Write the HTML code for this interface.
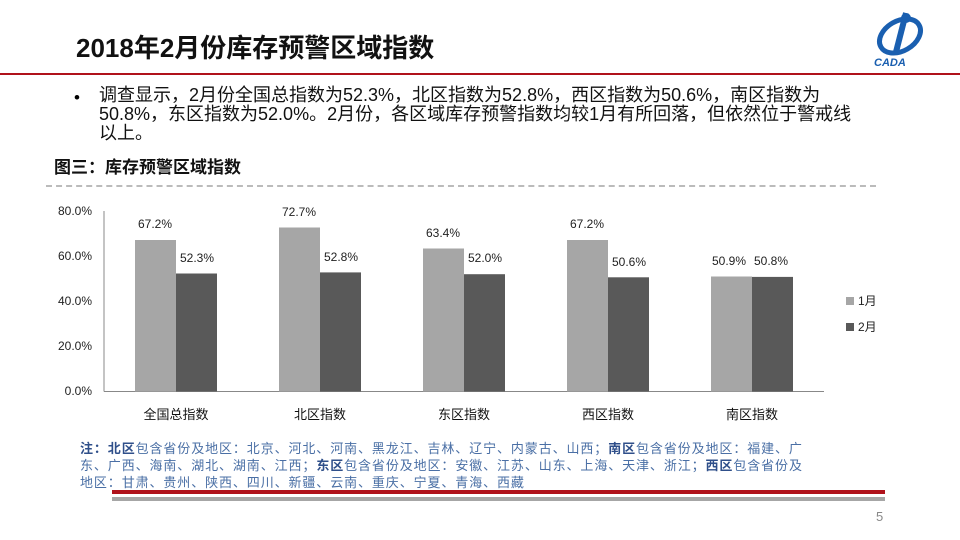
<!DOCTYPE html>
<html><head><meta charset="utf-8"><style>
body{margin:0;width:960px;height:540px;background:#fff;overflow:hidden;position:relative;font-family:"Liberation Sans","Noto Sans CJK SC",sans-serif;}
.a{position:absolute;white-space:nowrap;}
</style></head><body>
<div class="a" style="left:76px;top:28px;font-size:26px;font-weight:bold;color:#111;">2018年2月份库存预警区域指数</div>
<div style="position:absolute;left:0;top:73px;width:960px;height:2px;background:#b0121b;"></div>
<svg style="position:absolute;left:866px;top:8px" width="70" height="60" viewBox="0 0 70 60">
<ellipse cx="34" cy="28" rx="22" ry="15" fill="none" stroke="#1a5fb0" stroke-width="5" transform="rotate(-30 34 28)"/>
<path d="M40 5 L30 44" stroke="#1a5fb0" stroke-width="6"/>
<circle cx="40" cy="10" r="5" fill="#1a5fb0"/>
<text x="8" y="58" font-size="11" font-weight="bold" font-style="italic" fill="#1a5fb0" font-family="Liberation Sans">CADA</text>
</svg>
<div class="a" style="left:74px;top:88px;font-size:17px;">•</div>
<div class="a" style="left:99px;top:86px;font-size:18px;line-height:19px;color:#111;">调查显示，2月份全国总指数为52.3%，北区指数为52.8%，西区指数为50.6%，南区指数为<br>50.8%，东区指数为52.0%。2月份，各区域库存预警指数均较1月有所回落，但依然位于警戒线<br>以上。</div>
<div class="a" style="left:54px;top:153px;font-size:17px;font-weight:bold;color:#111;">图三：库存预警区域指数</div>
<div style="position:absolute;left:46px;top:185px;width:830px;border-top:2px dashed #bbb;"></div>
<svg style="position:absolute;left:0;top:0" width="960" height="540">
<g font-family="Liberation Sans" font-size="12" fill="#222">
<text x="92" y="215" text-anchor="end">80.0%</text>
<text x="92" y="260" text-anchor="end">60.0%</text>
<text x="92" y="305" text-anchor="end">40.0%</text>
<text x="92" y="350" text-anchor="end">20.0%</text>
<text x="92" y="395" text-anchor="end">0.0%</text>
</g>
<line x1="104" y1="211" x2="104" y2="391.5" stroke="#888"/>
<line x1="104" y1="391.5" x2="824" y2="391.5" stroke="#888"/>
<g fill="#a6a6a6">
<rect x="135" y="240" width="41" height="151.5"/>
<rect x="279" y="227.5" width="41" height="164"/>
<rect x="423" y="248.5" width="41" height="143"/>
<rect x="567" y="240" width="41" height="151.5"/>
<rect x="711" y="276.5" width="41" height="115"/>
</g>
<g fill="#595959">
<rect x="176" y="273.5" width="41" height="118"/>
<rect x="320" y="272.4" width="41" height="119.1"/>
<rect x="464" y="274.2" width="41" height="117.3"/>
<rect x="608" y="277.3" width="41" height="114.2"/>
<rect x="752" y="276.9" width="41" height="114.6"/>
</g>
<g font-family="Liberation Sans" font-size="12" fill="#222" text-anchor="middle">
<text x="155" y="228">67.2%</text><text x="197" y="262">52.3%</text>
<text x="299" y="216">72.7%</text><text x="341" y="261">52.8%</text>
<text x="443" y="237">63.4%</text><text x="485" y="262">52.0%</text>
<text x="587" y="228">67.2%</text><text x="629" y="266">50.6%</text>
<text x="729" y="265">50.9%</text><text x="771" y="265">50.8%</text>
</g>
<g font-family="Liberation Sans,Noto Sans CJK SC" font-size="13" fill="#111" text-anchor="middle">
<text x="176" y="419">全国总指数</text>
<text x="320" y="419">北区指数</text>
<text x="464" y="419">东区指数</text>
<text x="608" y="419">西区指数</text>
<text x="752" y="419">南区指数</text>
</g>
<rect x="846" y="297" width="8" height="8" fill="#a6a6a6"/>
<rect x="846" y="323" width="8" height="8" fill="#595959"/>
<g font-family="Liberation Sans,Noto Sans CJK SC" font-size="12" fill="#222">
<text x="858" y="305">1月</text><text x="858" y="331">2月</text>
</g>
<rect x="112" y="490" width="773" height="4" fill="#b0121b"/>
<rect x="112" y="497" width="773" height="4" fill="#a6a6a6"/>
<text x="876" y="521" font-family="Liberation Sans" font-size="13" fill="#888">5</text>
</svg>
<div class="a" style="left:80px;top:440px;font-size:13px;letter-spacing:0.9px;line-height:17px;color:#4a6fa5;"><b style="color:#2f4f8a">注：北区</b>包含省份及地区：北京、河北、河南、黑龙江、吉林、辽宁、内蒙古、山西；<b style="color:#2f4f8a">南区</b>包含省份及地区：福建、广<br>东、广西、海南、湖北、湖南、江西；<b style="color:#2f4f8a">东区</b>包含省份及地区：安徽、江苏、山东、上海、天津、浙江；<b style="color:#2f4f8a">西区</b>包含省份及<br>地区：甘肃、贵州、陕西、四川、新疆、云南、重庆、宁夏、青海、西藏</div>
</body></html>
